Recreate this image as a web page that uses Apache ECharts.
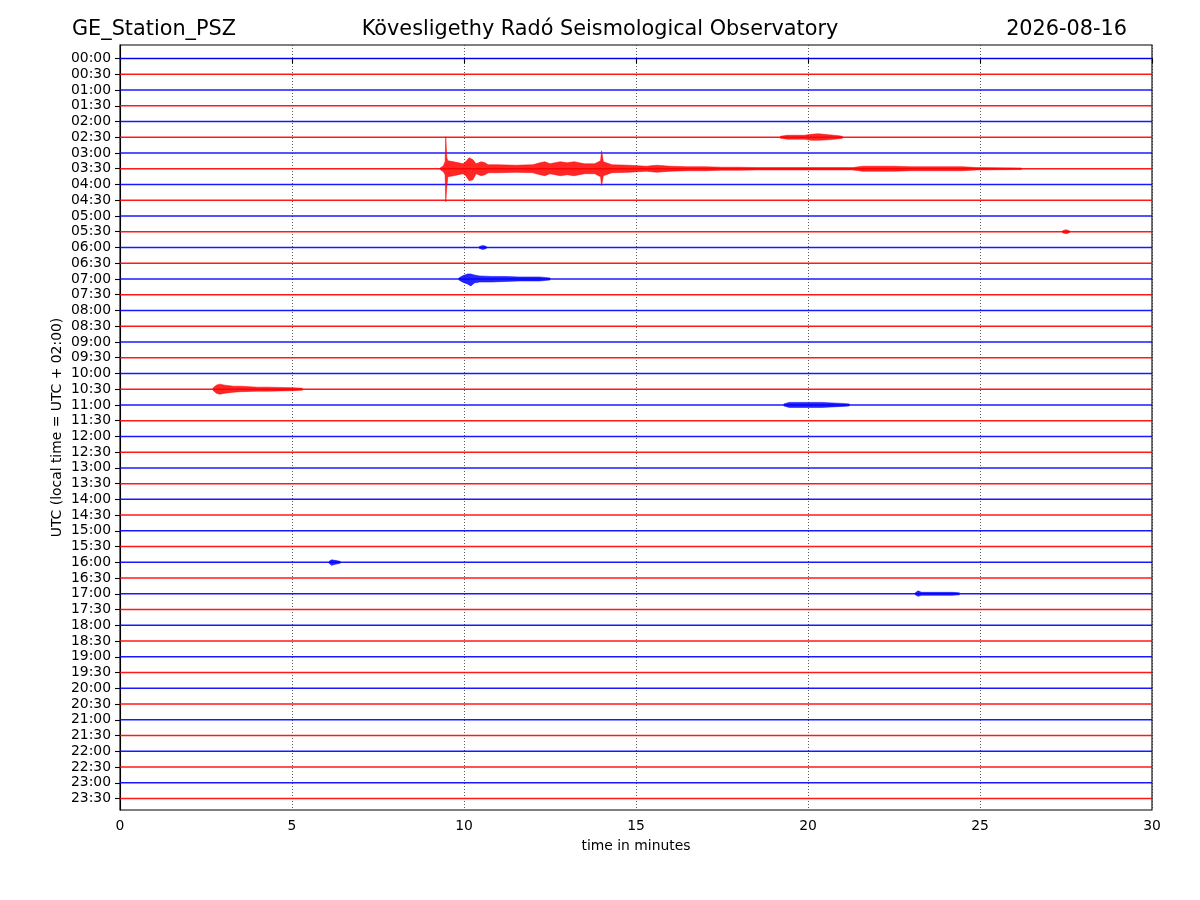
<!DOCTYPE html>
<html>
<head>
<meta charset="utf-8">
<script src="https://cdn.jsdelivr.net/npm/echarts@6/dist/echarts.min.js"></script>
<style>
html,body{margin:0;padding:0;background:#fff;}
#chart{width:1200px;height:900px;}
</style>
</head>
<body>
<div id="chart"></div>
<script>
// ---- text ----
const stationTitle = 'GE_Station_PSZ';
const observatoryTitle = 'Kövesligethy Radó Seismological Observatory';
const dateTitle = '2026-08-16';
const xAxisTitle = 'time in minutes';
const yAxisTitle = 'UTC (local time = UTC + 02:00)';

// ---- tick labels (one per 30-minute trace) ----
const rowLabels = ['00:00','00:30','01:00','01:30','02:00','02:30','03:00','03:30','04:00','04:30',
  '05:00','05:30','06:00','06:30','07:00','07:30','08:00','08:30','09:00','09:30',
  '10:00','10:30','11:00','11:30','12:00','12:30','13:00','13:30','14:00','14:30',
  '15:00','15:30','16:00','16:30','17:00','17:30','18:00','18:30','19:00','19:30',
  '20:00','20:30','21:00','21:30','22:00','22:30','23:00','23:30'];
const xTicks = [0, 5, 10, 15, 20, 25, 30];

// ---- trace span (minutes) ----
const traceStart = 0;
const traceEnd = 30;

// ---- event envelopes: [minute, upward amplitude, downward amplitude] (amplitude units) ----
const event0230 = [[19.2,1,1],[19.4,2,2],[19.9,2,2],[20.1,3,3],[20.3,3.5,3],[20.6,2.5,2.5],[20.9,1.5,1.5],[21.0,1,1]];
const event0330 = [[9.30,0.5,0.5],[9.40,3,3],[9.45,7,6],[9.47,32,33],[9.50,11,18],[9.53,8,8],[9.70,7,7],
  [9.97,5,5],[10.05,7,7],[10.15,11,12],[10.26,9,11],[10.35,5,5],[10.50,7,7],[10.61,6,6],[10.70,4,4],
  [11.00,4,4],[11.50,3.5,3.5],[12.00,4,4],[12.21,6,6],[12.35,7,7],[12.50,5,5],[12.80,7,7],[13.00,6,6],
  [13.20,7,7],[13.50,5,5],[13.80,5,5],[13.97,8,8],[14.00,18,17],[14.05,7,7],[14.30,4,4],[14.80,3.5,3.5],
  [15.30,2.5,2.5],[15.60,3.5,3.5],[16.00,2.5,2.5],[16.50,2,2],[17.00,2,2],[17.50,1.5,1.5],[18.00,1.5,1.5],
  [18.50,1.2,1.2],[21.30,1.2,1.2],[21.60,2.5,2.5],[22.50,2.5,2.5],[23.00,2,2],[24.50,2,2],[24.90,1.2,1.2],
  [26.20,0.8,0.8]];
const event0530 = [[27.40,1,1],[27.50,2,2],[27.60,1,1]];
const event0600 = [[10.45,1,1],[10.55,2,2],[10.65,1,1]];
const event0700 = [[9.85,1,1],[9.95,3,3],[10.10,5,5],[10.20,5,7],[10.30,4,4],[10.45,3,3],[10.80,2.5,3],
  [11.20,2.5,2.5],[11.60,2,2],[12.20,2,2],[12.50,1,1]];
const event1030 = [[2.70,1,1],[2.80,4,4],[2.90,5,5],[3.05,4,4],[3.30,3,3],[3.50,3,2.5],[4.00,2,2],
  [4.30,2,2],[5.00,1.5,1.5],[5.30,1,1]];
const event1100 = [[19.30,1,1],[19.45,2.5,2.5],[20.00,2.5,2.5],[20.40,2.5,2.5],[20.70,2,2],[21.00,1.5,1.5],[21.20,1,1]];
const event1600 = [[6.08,1,1],[6.15,2.5,3],[6.25,2,2],[6.40,1,1]];
const event1700 = [[23.12,1,1],[23.20,3,2.5],[23.30,1.5,1.5],[24.20,1.5,1.5],[24.40,1,1]];

const eventRows = [5, 7, 11, 12, 14, 21, 22, 32, 34];
const eventEnvelopes = [event0230, event0330, event0530, event0600, event0700, event1030, event1100, event1600, event1700];

// ---- styling ----
const AMP = 1 / 15.75;  // amplitude units -> trace spacing
const traceColors = ['#0000ff', '#ff0000'];
const FONT = 'DejaVu Sans';

const rowIndex = rowLabels.map((_, i) => i);

const series = [];
rowLabels.forEach((lab, i) => {
  series.push({
    type: 'line',
    data: [[traceStart, i], [traceEnd, i]],
    symbol: 'none',
    silent: true,
    animation: false,
    lineStyle: { color: traceColors[i % 2], width: 1.5, opacity: 0.9 },
    z: 2
  });
});

series.push({
  type: 'custom',
  coordinateSystem: 'cartesian2d',
  animation: false,
  silent: true,
  clip: true,
  data: eventRows.map((r, k) => [k, r]),
  encode: { x: -1, y: -1 },
  renderItem: function (params, api) {
    const k = api.value(0);
    const row = eventRows[k];
    const env = eventEnvelopes[k];
    const upper = env.map(p => api.coord([p[0], row - p[1] * AMP]));
    const lower = env.slice().reverse().map(p => api.coord([p[0], row + p[2] * AMP]));
    const c = traceColors[row % 2];
    return {
      type: 'polygon',
      shape: { points: upper.concat(lower) },
      style: { fill: c, stroke: c, lineWidth: 0.6, opacity: 0.85 },
      z2: 3
    };
  },
  z: 3
});

const titleStyle = { fontFamily: FONT, fontSize: 20.8, fontWeight: 'normal', color: '#000' };
const chart = echarts.init(document.getElementById('chart'), null, { renderer: 'canvas' });
chart.setOption({
  animation: false,
  backgroundColor: '#ffffff',
  textStyle: { fontFamily: FONT },
  title: [
    { text: stationTitle, left: 72, top: 19, padding: 0, textStyle: titleStyle },
    { text: observatoryTitle, left: 'center', top: 19, padding: 0, textStyle: titleStyle },
    { text: dateTitle, right: 73, top: 19, padding: 0, textStyle: titleStyle }
  ],
  grid: { left: 120, right: 48, top: 45, bottom: 90, show: true, borderColor: '#000', borderWidth: 1.1, backgroundColor: 'transparent' },
  xAxis: {
    type: 'value',
    min: xTicks[0],
    max: xTicks[xTicks.length - 1],
    interval: 5,
    name: xAxisTitle,
    nameLocation: 'middle',
    nameGap: 29,
    nameTextStyle: { fontFamily: FONT, fontSize: 13.9, color: '#000' },
    axisLine: { show: true, lineStyle: { color: '#000', width: 1.1 } },
    axisTick: { show: true, inside: false, length: 5, lineStyle: { color: '#000', width: 1.1 } },
    axisLabel: { fontFamily: FONT, fontSize: 13.9, color: '#000', margin: 9 },
    splitLine: { show: true, lineStyle: { color: '#333', width: 0.8, type: [1, 2] } }
  },
  yAxis: {
    type: 'value',
    inverse: true,
    min: -0.86,
    max: 47.73,
    name: yAxisTitle,
    nameLocation: 'middle',
    nameGap: 56,
    nameMoveOverlap: false,
    nameTextStyle: { fontFamily: FONT, fontSize: 13.9, color: '#000' },
    axisLine: { show: true, lineStyle: { color: '#000', width: 1.1 } },
    axisTick: { show: true, inside: false, length: 5, customValues: rowIndex, lineStyle: { color: '#000', width: 1.1 } },
    axisLabel: {
      fontFamily: FONT, fontSize: 13.9, color: '#000', margin: 9,
      customValues: rowIndex,
      formatter: function (v) { return rowLabels[Math.round(v)]; }
    },
    splitLine: { show: false }
  },
  series: series
});
</script>
</body>
</html>
